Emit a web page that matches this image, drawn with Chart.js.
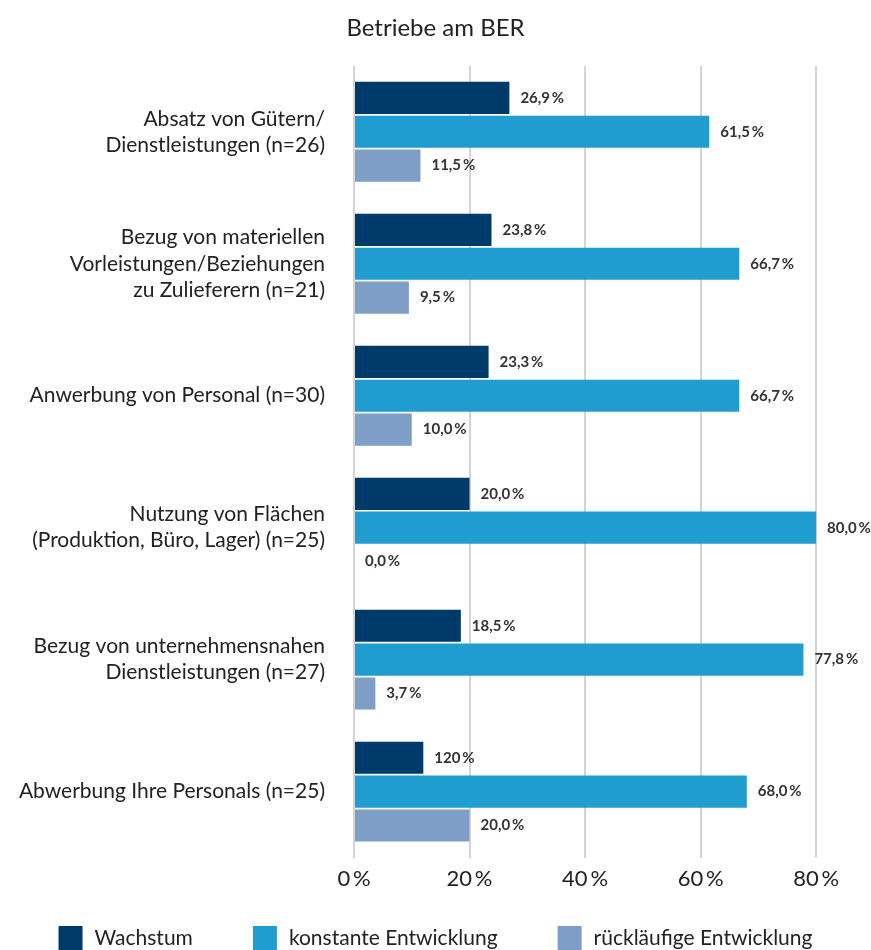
<!DOCTYPE html>
<html>
<head>
<meta charset="utf-8">
<script src="https://cdn.jsdelivr.net/npm/chart.js@4"></script>
<style>
  html, body { margin: 0; padding: 0; background: #fff; }
  #wrap { width: 871px; height: 950px; }
</style>
</head>
<body>
<div id="wrap"><canvas id="berChart"></canvas></div>
<script>
const categories = [
    ['Absatz von Gütern/', 'Dienstleistungen (n=26)'],
    ['Bezug von materiellen', 'Vorleistungen/Beziehungen', 'zu Zulieferern (n=21)'],
    'Anwerbung von Personal (n=30)',
    ['Nutzung von Flächen', '(Produktion, Büro, Lager) (n=25)'],
    ['Bezug von unternehmensnahen', 'Dienstleistungen (n=27)'],
    'Abwerbung Ihre Personals (n=25)'
];
const wachstum = [26.9, 23.8, 23.3, 20.0, 18.5, 12.0];
const konstant = [61.5, 66.7, 66.7, 80.0, 77.8, 68.0];
const ruecklaeufig = [11.5, 9.5, 10.0, 0.0, 3.7, 20.0];
// value labels as printed in the original (including its "120 %")
const wachstumLabels = ['26,9\u2009%', '23,8\u2009%', '23,3\u2009%', '20,0\u2009%', '18,5\u2009%', '120\u2009%'];
const konstantLabels = ['61,5\u2009%', '66,7\u2009%', '66,7\u2009%', '80,0\u2009%', '77,8\u2009%', '68,0\u2009%'];
const ruecklaeufigLabels = ['11,5\u2009%', '9,5\u2009%', '10,0\u2009%', '0,0\u2009%', '3,7\u2009%', '20,0\u2009%'];
const xTicks = [0, 20, 40, 60, 80];

const FONT = "Lato, sans-serif";

const valueLabels = {
    id: 'valueLabels',
    afterDatasetsDraw(chart) {
        const ctx = chart.ctx;
        ctx.save();
        ctx.font = 'bold 15px ' + FONT;
        ctx.fillStyle = '#333';
        ctx.textAlign = 'left';
        ctx.textBaseline = 'middle';
        chart.data.datasets.forEach((ds, i) => {
            chart.getDatasetMeta(i).data.forEach((bar, j) => {
                ctx.fillText(ds.valueLabels[j], bar.x + 11, bar.y);
            });
        });
        ctx.restore();
    }
};

// one-row legend on the bottom edge, wide gaps like the original
const legendRow = {
    id: 'legendRow',
    afterDraw(chart) {
        const ctx = chart.ctx;
        const box = 24, textGap = 12, itemGap = 60;
        ctx.save();
        ctx.font = '21px ' + FONT;
        ctx.textAlign = 'left';
        ctx.textBaseline = 'middle';
        const items = chart.data.datasets.map(ds => ({
            text: ds.label,
            color: ds.backgroundColor,
            w: ctx.measureText(ds.label).width
        }));
        const total = items.reduce((s, it) => s + box + textGap + it.w, 0) + itemGap * (items.length - 1);
        let x = (chart.width - total) / 2;
        const y = chart.height - box;
        items.forEach(it => {
            ctx.fillStyle = it.color;
            ctx.fillRect(x, y, box, box);
            ctx.fillStyle = '#222';
            ctx.fillText(it.text, x + box + textGap, y + box / 2);
            x += box + textGap + it.w + itemGap;
        });
        ctx.restore();
    }
};

const ctx = document.getElementById('berChart').getContext('2d');
new Chart(ctx, {
    type: 'bar',
    data: {
        labels: categories,
        datasets: [
            {
                label: 'Wachstum',
                data: wachstum,
                valueLabels: wachstumLabels,
                backgroundColor: '#003a6b'
            },
            {
                label: 'konstante Entwicklung',
                data: konstant,
                valueLabels: konstantLabels,
                backgroundColor: '#209dd0'
            },
            {
                label: 'rückläufige Entwicklung',
                data: ruecklaeufig,
                valueLabels: ruecklaeufigLabels,
                backgroundColor: '#7f9ec7'
            }
        ]
    },
    options: {
        indexAxis: 'y',
        responsive: true,
        maintainAspectRatio: false,
        animation: false,
        categoryPercentage: 0.77,
        barPercentage: 0.95,
        layout: { padding: { top: 0, right: 0, bottom: 50, left: 0 } },
        plugins: {
            title: {
                display: true,
                text: 'Betriebe am BER',
                color: '#222',
                font: { family: FONT, size: 24, weight: 'normal' },
                padding: { top: 14, bottom: 23 }
            },
            legend: { display: false },
            tooltip: { enabled: false }
        },
        scales: {
            x: {
                min: 0,
                max: 89.5,
                afterBuildTicks(scale) {
                    scale.ticks = xTicks.map(v => ({ value: v }));
                },
                grid: { color: '#d4d4d4', lineWidth: 2, drawTicks: false },
                border: { display: false },
                ticks: {
                    color: '#222',
                    padding: 8,
                    font: { family: FONT, size: 22 },
                    callback: v => v + '\u2009%'
                }
            },
            y: {
                afterFit(scale) { scale.width = 354; },
                grid: { display: false },
                border: { display: false },
                ticks: {
                    color: '#222',
                    padding: 21,
                    font: { family: FONT, size: 21, lineHeight: 1.24 }
                }
            }
        }
    },
    plugins: [valueLabels, legendRow]
});
</script>
</body>
</html>
